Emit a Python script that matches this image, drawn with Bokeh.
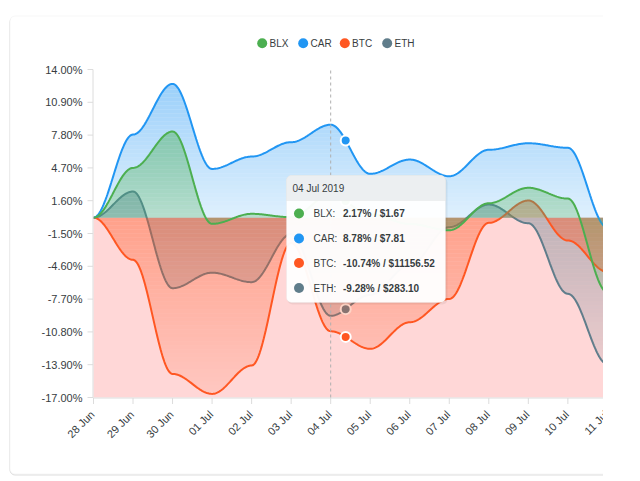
import numpy as np
from math import pi
from bokeh.plotting import figure
from bokeh.models import Label, BoxAnnotation, Range1d
from bokeh.core.properties import value
from bokeh.embed import file_html
from bokeh.resources import INLINE

# ---------------- data ----------------
days = ["28 Jun", "29 Jun", "30 Jun", "01 Jul", "02 Jul", "03 Jul", "04 Jul",
        "05 Jul", "06 Jul", "07 Jul", "08 Jul", "09 Jul", "10 Jul", "11 Jul"]
blx = [0, 4.70, 8.14, -0.59, 0.36, 0.04, 2.17, 0.30, -0.60, -1.20, 1.36, 2.82, 1.80, -7.05]
car = [0, 7.85, 12.64, 4.60, 5.77, 7.13, 8.78, 4.14, 5.49, 3.91, 6.41, 7.03, 6.60, -0.94]
btc = [0, -3.99, -14.77, -16.66, -13.98, -2.40, -10.74, -12.40, -9.89, -7.68, -0.49, 1.62, -2.16, -5.13]
eth = [0, 2.47, -6.67, -5.20, -6.10, -1.55, -9.28, -7.30, -4.50, -0.90, 1.24, -0.53, -7.20, -13.84]
names = ["BLX", "CAR", "BTC", "ETH"]
prices = [1.67, 7.81, 11156.52, 283.10]      # tooltip prices on the hovered day
hover_index = 6
tooltip_title = "04 Jul 2019"
y_ticks = [14.0, 10.9, 7.8, 4.7, 1.6, -1.5, -4.6, -7.7, -10.8, -13.9, -17.0]
y_labels = [f"{t:.2f}%" for t in y_ticks]

# ---------------- style ----------------
colors = {"BLX": "#4CAF50", "CAR": "#2196F3", "BTC": "#FF5722", "ETH": "#607D8B"}
series = {"BLX": blx, "CAR": car, "BTC": btc, "ETH": eth}
FONT = "Liberation Sans"
TXT = "#373d3f"
AXIS = "#dcdcdc"
W, H = 603, 478

# page-pixel helpers
FRAME_L, FRAME_T, FRAME_B = 93, 69, 397
DAY_PX = 39.53
Y_MAX, Y_MIN = y_ticks[0], y_ticks[-1]
PX_PER_UNIT = (FRAME_B - FRAME_T) / (Y_MAX - Y_MIN)
def xd(px): return (px - FRAME_L) / DAY_PX
def yd(py): return Y_MAX - (py - FRAME_T) / PX_PER_UNIT

p = figure(width=W, height=H, output_backend="svg", toolbar_location=None,
           x_range=Range1d(xd(0), xd(W)), y_range=Range1d(yd(H), yd(0)),
           x_axis_type=None, y_axis_type=None,
           min_border_left=0, min_border_right=0, min_border_top=0, min_border_bottom=0)
p.outline_line_color = None
p.xgrid.visible = False
p.ygrid.visible = False
p.background_fill_color = "white"
p.border_fill_color = "white"

# card
p.add_layout(BoxAnnotation(left=xd(9.5), right=xd(W + 50), top=yd(16.5), bottom=yd(474.5),
                           fill_color=None, line_color="#cfcfcf", line_alpha=0.7,
                           border_radius=5, level="underlay"))
p.add_layout(BoxAnnotation(left=xd(9.5), right=xd(W + 50), top=yd(15.5), bottom=yd(473.5),
                           fill_color="white", fill_alpha=1, line_color="#e6e6e6",
                           border_radius=5, level="underlay"))

n_days = len(days)
xi = list(range(n_days))

# negative band (zero line down to the axis minimum)
p.quad(left=[xi[0]], right=[xi[-1]], top=[0], bottom=[Y_MIN], fill_color="#ffd7d7",
       line_color=None)

def smooth(xs, ys, n=40):
    X, Y = [], []
    for i in range(len(xs) - 1):
        x0, x1, y0, y1 = xs[i], xs[i + 1], ys[i], ys[i + 1]
        L = (x1 - x0) * 0.35
        t = np.linspace(0, 1, n, endpoint=(i == len(xs) - 2))
        bx = (1 - t) ** 3 * x0 + 3 * (1 - t) ** 2 * t * (x0 + L) + 3 * (1 - t) * t ** 2 * (x1 - L) + t ** 3 * x1
        by = (1 - t) ** 3 * y0 + 3 * (1 - t) ** 2 * t * y0 + 3 * (1 - t) * t ** 2 * y1 + t ** 3 * y1
        X.append(bx); Y.append(by)
    return np.concatenate(X), np.concatenate(Y)

edges = np.array([yd(FRAME_T + k) for k in range(0, FRAME_B - FRAME_T + 1, 4)])

def gradient_area(x, y, color, a_from, a_to):
    hi, lo = max(0.0, y.max()), min(0.0, y.min())
    xs, ys, al = [], [], []
    for k in range(len(edges) - 1):
        top, bot = edges[k], edges[k + 1]
        if bot >= hi or top <= lo:
            continue
        y1 = np.clip(np.zeros_like(y), bot, top)
        y2 = np.clip(y, bot, top)
        if np.all(np.abs(y2 - y1) < 1e-9):
            continue
        c = (top + bot) / 2
        t = min(max((hi - c) / (hi - lo), 0), 1)
        xs.append(np.concatenate([x, x[::-1]]).tolist())
        ys.append(np.concatenate([y2, y1[::-1]]).tolist())
        al.append(a_from + (a_to - a_from) * t)
    p.patches(xs, ys, fill_color=color, fill_alpha=al, line_color=None)

xm = hover_index + 0.38
for name in ["ETH", "BTC", "CAR", "BLX"]:
    X, Y = smooth(xi, series[name])
    gradient_area(X, Y, colors[name], 0.45, 0.12)
    p.line(X, Y, line_color=colors[name], line_width=2)
    ym = float(np.interp(xm, X, Y))
    p.scatter([xm], [ym], size=10, fill_color=colors[name], line_color="white", line_width=2)

# ---- axes drawn by hand ----
ax_x = xd(FRAME_L - 0.5)
ax_y = yd(FRAME_B + 0.5)
p.segment(x0=[ax_x], y0=[Y_MIN], x1=[ax_x], y1=[Y_MAX], line_color=AXIS, line_width=1)
p.segment(x0=[ax_x], y0=[ax_y], x1=[xd(W)], y1=[ax_y], line_color=AXIS, line_width=1)
p.segment(x0=[xd(FRAME_L - 6)] * len(y_ticks), y0=y_ticks, x1=[ax_x] * len(y_ticks), y1=y_ticks,
          line_color=AXIS, line_width=1)
p.text(x=[xd(82)] * len(y_ticks), y=y_ticks, text=y_labels, text_align="right",
       text_baseline="middle", text_font=value(FONT), text_font_size="11px", text_color=TXT)
p.segment(x0=xi, y0=[ax_y] * n_days, x1=xi, y1=[yd(FRAME_B + 6.5)] * n_days,
          line_color=AXIS, line_width=1)
p.text(x=[v - 1 / DAY_PX for v in xi], y=[yd(412)] * n_days, text=days, angle=pi / 4,
       text_align="right", text_baseline="middle", text_font=value(FONT),
       text_font_size="11px", text_color=TXT)

# crosshair
p.segment(x0=[hover_index], y0=[Y_MIN], x1=[hover_index], y1=[Y_MAX],
          line_color="#b0b0b0", line_dash="3 3", line_width=1)

# legend
leg_px = [261.7, 302.7, 344.3, 386.7]
p.scatter([xd(v) for v in leg_px], [yd(42.7)] * 4, size=10,
          fill_color=[colors[n] for n in names], line_color=None)
p.text(x=[xd(v + 7.3) for v in leg_px], y=[yd(42.7)] * 4, text=names, text_baseline="middle",
       text_font=value(FONT), text_font_size="10px", text_color=TXT)

# tooltip
TL, TR, TT, TB, TH = 286, 445, 175, 302, 200
p.add_layout(BoxAnnotation(left=xd(TL + 1), right=xd(TR + 2), top=yd(TT + 2), bottom=yd(TB + 2),
                           fill_color="#000000", fill_alpha=0.06, line_color=None,
                           border_radius=5, level="overlay"))
p.add_layout(BoxAnnotation(left=xd(TL), right=xd(TR), top=yd(TT), bottom=yd(TB),
                           fill_color="white", fill_alpha=0.96, line_color="#e3e3e3",
                           border_radius=5, level="overlay"))
p.add_layout(BoxAnnotation(left=xd(TL), right=xd(TR), top=yd(TT), bottom=yd(TH),
                           fill_color="#eceff1", fill_alpha=1, line_color="#dddddd",
                           border_radius=(5, 5, 0, 0), level="overlay"))
p.add_layout(Label(x=xd(TL + 6), y=yd(188), text=tooltip_title, text_baseline="middle",
                   text_font=FONT, text_font_size="10px", text_color=TXT, level="overlay"))
row_y = [213, 238, 262.5, 287.5]
for name, ry, pr in zip(names, row_y, prices):
    v = series[name][hover_index]
    p.add_layout(BoxAnnotation(left=xd(293.5), right=xd(303.5), top=yd(ry - 5), bottom=yd(ry + 5),
                               fill_color=colors[name], fill_alpha=1, line_color=None,
                               border_radius=5, level="overlay"))
    p.add_layout(Label(x=xd(313), y=yd(ry), text=name + ":", text_baseline="middle",
                       text_font=FONT, text_font_size="10px", text_color=TXT, level="overlay"))
    p.add_layout(Label(x=xd(342.5), y=yd(ry), text=f"{v:.2f}% / ${pr:.2f}", text_baseline="middle",
                       text_font=FONT, text_font_size="10px", text_font_style="bold",
                       text_color=TXT, level="overlay"))

open("out.html", "w").write(file_html(p, INLINE))
